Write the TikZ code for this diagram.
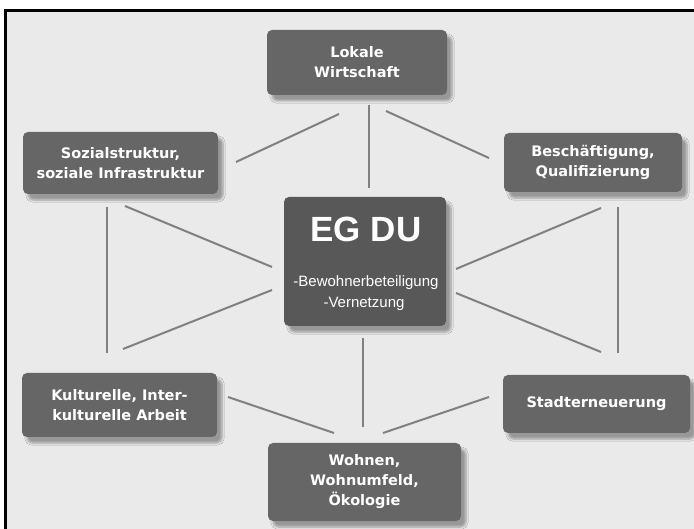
\documentclass[tikz,border=0pt]{standalone}
\usepackage{fontspec}
\setmainfont{DejaVu Sans}
\newfontfamily\arialfont{Liberation Sans}
\usetikzlibrary{shadows.blur}
\definecolor{boxgray}{HTML}{666666}
\definecolor{centergray}{HTML}{585858}
\definecolor{linegray}{HTML}{808080}
\definecolor{bggray}{HTML}{EAEAEA}
\tikzset{
  themebox/.style={rounded corners=5pt, fill=boxgray, text=white,
    font=\bfseries\fontsize{14.5}{20}\selectfont, align=center, inner sep=0pt,
    blur shadow={shadow xshift=5pt, shadow yshift=-6pt, shadow blur steps=6, shadow opacity=35}},
  link/.style={draw=linegray, line width=2pt},
  centertext/.style={text=white, inner sep=0pt, anchor=base}
}
\begin{document}
\begin{tikzpicture}[x=1pt,y=-1pt]
\useasboundingbox (0,0) rectangle (694,529);
\fill[bggray] (5,11) rectangle (694,529);
\draw[line width=3pt] (5,529) -- (5,11) -- (694,11);

% connector end points
\coordinate (l1a) at (236,162); \coordinate (l1b) at (339,114);
\coordinate (l2a) at (369,105); \coordinate (l2b) at (369,188);
\coordinate (l3a) at (386,111); \coordinate (l3b) at (489,158);
\coordinate (l4a) at (107,207); \coordinate (l4b) at (107,353);
\coordinate (l5a) at (125,206); \coordinate (l5b) at (272,267);
\coordinate (l6a) at (272,290); \coordinate (l6b) at (123,349);
\coordinate (l7a) at (456,269); \coordinate (l7b) at (601,208);
\coordinate (l8a) at (456,293); \coordinate (l8b) at (601,352);
\coordinate (l9a) at (618,207); \coordinate (l9b) at (618,353);
\coordinate (l10a) at (228,397); \coordinate (l10b) at (334,433);
\coordinate (l11a) at (363,338); \coordinate (l11b) at (363,427);
\coordinate (l12a) at (383,433); \coordinate (l12b) at (489,397);

\foreach \i in {1,...,12} {\draw[link] (l\i a) -- (l\i b);}

% boxes
\node[themebox, minimum width=180pt, minimum height=65pt] (lok) at (357,62.5) {Lokale\\Wirtschaft};
\node[themebox, minimum width=195pt, minimum height=62pt] (soz) at (120.5,163) {Sozialstruktur,\\soziale Infrastruktur};
\node[themebox, minimum width=178pt, minimum height=59pt] (bes) at (593,162.5) {Beschäftigung,\\Qualifizierung};
\node[themebox, fill=centergray, minimum width=162pt, minimum height=129pt] (eg) at (365,261.5) {};
\node[themebox, minimum width=195pt, minimum height=64pt] (kul) at (119.5,405) {Kulturelle, Inter-\\kulturelle Arbeit};
\node[themebox, minimum width=187pt, minimum height=58pt] (std) at (596.5,404) {Stadterneuerung};
\node[themebox, minimum width=193pt, minimum height=78pt] (woh) at (364.5,482) {Wohnen,\\Wohnumfeld,\\Ökologie};

% center text
\node[centertext, font=\arialfont\bfseries\fontsize{35}{35}\selectfont] (egtitle) at (366,242) {EG DU};
\node[centertext, font=\arialfont\fontsize{15}{15}\selectfont] (egline1) at (366,287) {-Bewohnerbeteiligung};
\node[centertext, font=\arialfont\fontsize{15}{15}\selectfont] (egline2) at (364,308) {-Vernetzung};
\end{tikzpicture}
\end{document}
